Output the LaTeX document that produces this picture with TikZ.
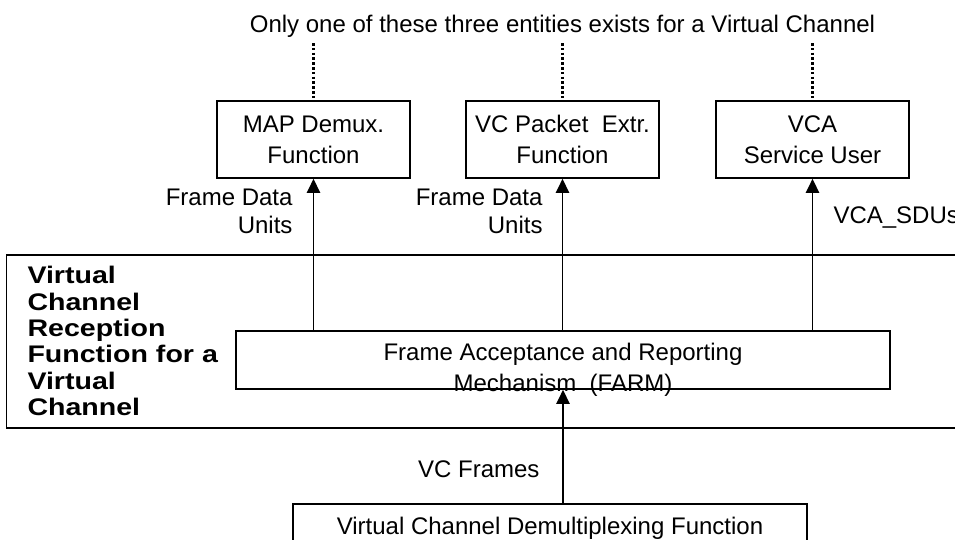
\documentclass[tikz,border=0pt]{standalone}
\usepackage{fontspec}
\setmainfont{Liberation Sans}
\newfontfamily\widebold{Liberation Sans Bold}[FakeStretch=1.19]
\usetikzlibrary{arrows.meta}

\tikzset{every picture/.style={line width=0.75pt},
	fnbox/.style={draw,line width=1.3pt,inner sep=0pt,align=center,font=\fontsize{18pt}{23.25pt}\selectfont},
	txt/.style={inner sep=0pt,font=\fontsize{18pt}{21pt}\selectfont},
	upflow/.style={line width=1.2pt,-{Triangle[length=10.5pt,width=10pt]}},
	dotlink/.style={line width=2pt,dash pattern=on 2pt off 1.6pt},
	layerline/.style={line width=1.8pt}}

\begin{document}
\begin{tikzpicture}[x=0.75pt,y=0.75pt,yscale=-1,xscale=1]
	\useasboundingbox (0,0) rectangle (955,539);
	\clip (0,0) rectangle (955,539);
	
	%Straight Lines: layer borders
	\draw [layerline]    (6,255) -- (955,255) ;
	\draw [layerline]    (6,428) -- (955,428) ;
	\draw                (6,255) -- (6,428) ;
	
	%Shape: Rectangle
	\node [fnbox,minimum width=144.75pt,minimum height=57.75pt] (mapdmx) at (313.5,139.5) {MAP Demux.\\Function};
	%Shape: Rectangle
	\node [fnbox,minimum width=144.75pt,minimum height=57.75pt] (pktext) at (562.5,139.5) {VC Packet\ \ Extr.\\Function};
	%Shape: Rectangle
	\node [fnbox,minimum width=144.75pt,minimum height=57.75pt] (vcauser) at (812.5,139.5) {VCA\\Service User};
	%Shape: Rectangle
	\node [draw,line width=1.3pt,minimum width=490.5pt,minimum height=43.5pt] (farm) at (563,360) {};
	%Shape: Rectangle
	\node [fnbox,minimum width=385.5pt,minimum height=36pt] (vcdemux) at (550,528) {Virtual Channel Demultiplexing Function};
	
	%Dotted Lines
	\coordinate (top1) at (313.5,43);
	\coordinate (top2) at (562.5,43);
	\coordinate (top3) at (812.5,43);
	\draw [dotlink]    (top1) -- (mapdmx.north) ;
	\draw [dotlink]    (top2) -- (pktext.north) ;
	\draw [dotlink]    (top3) -- (vcauser.north) ;
	
	%Arrows
	\draw [upflow]    (farm.north -| mapdmx.south) -- (mapdmx.south) ;
	\draw [upflow]    (farm.north -| pktext.south) -- (pktext.south) ;
	\draw [upflow]    (farm.north -| vcauser.south) -- (vcauser.south) ;
	\draw [upflow]    (vcdemux.north -| farm.south) -- (farm.south) ;
	
	% Text Node
	\node [txt,anchor=base] (note) at (562.5,32) {Only one of these three entities exists for a Virtual Channel};
	% Text Node
	\node [txt,anchor=north,align=center,font=\fontsize{18pt}{23.25pt}\selectfont] (farmtxt) at (563,343) {Frame Acceptance and Reporting\\Mechanism\ \ (FARM)};
	% Text Node
	\node [txt,anchor=north east,align=right] (fdu1) at (293,188) {Frame Data\\Units};
	% Text Node
	\node [txt,anchor=north east,align=right] (fdu2) at (543,188) {Frame Data\\Units};
	% Text Node
	\node [txt,anchor=base west] (sdus) at (833,223) {VCA\_SDUs};
	% Text Node
	\node [txt,anchor=base east] (vcfr) at (540,477) {VC Frames};
	% Text Node
	\node [anchor=north west,inner sep=0pt,align=left,font=\widebold\fontsize{18pt}{19.75pt}\selectfont] (vcrf) at (27,266) {Virtual\\Channel\\Reception\\Function for a\\Virtual\\Channel};
	
\end{tikzpicture}
\end{document}
